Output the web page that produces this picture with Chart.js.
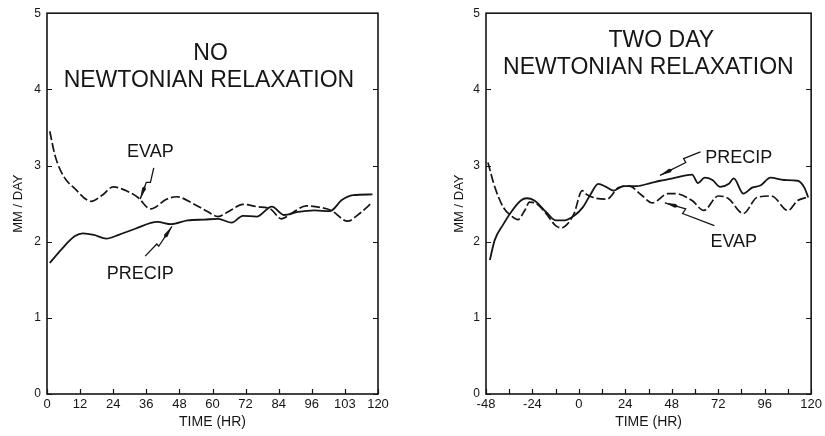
<!DOCTYPE html>
<html>
<head>
<meta charset="utf-8">
<script src="https://cdn.jsdelivr.net/npm/chart.js@4.4.0/dist/chart.umd.min.js"></script>
<style>
  body { margin: 0; background: #fff; }
  .panel { position: absolute; top: 0; }
</style>
</head>
<body>
<canvas id="noRelax" class="panel" width="410" height="436" style="left:0"></canvas>
<canvas id="twoDay" class="panel" width="410" height="436" style="left:415px"></canvas>
<script>
// Left panel: no Newtonian relaxation
const noRelaxEvapHr = [1, 3, 6, 10, 16, 20, 24, 28, 33, 37.5, 43.5, 47, 53, 58, 62, 66, 71, 76, 81, 85, 89, 94, 99, 103, 109, 113, 118];
const noRelaxEvap   = [3.45, 3.12, 2.86, 2.70, 2.53, 2.61, 2.72, 2.68, 2.58, 2.43, 2.56, 2.59, 2.50, 2.40, 2.33, 2.40, 2.49, 2.46, 2.43, 2.30, 2.38, 2.47, 2.45, 2.41, 2.27, 2.36, 2.52];
const noRelaxPrecipHr = [1, 5, 10, 13, 17, 21.5, 26, 32, 40, 45, 51, 57, 62, 67, 71, 76, 81.5, 86, 91, 97, 102.5, 107, 111, 118];
const noRelaxPrecip   = [1.72, 1.89, 2.07, 2.11, 2.09, 2.04, 2.09, 2.17, 2.26, 2.23, 2.28, 2.29, 2.30, 2.25, 2.34, 2.33, 2.46, 2.35, 2.39, 2.41, 2.40, 2.55, 2.61, 2.62];
const noRelaxTickLabels = ['0', '12', '24', '36', '48', '60', '72', '84', '96', '103', '120'];

// Right panel: two day Newtonian relaxation
const twoDayEvapHr = [-47, -43.5, -39, -35, -31.5, -28, -25.5, -22, -17, -12, -9, -6, -2.5, 1.7, 4, 9, 14.5, 20.5, 26, 32, 38, 46, 50, 58.5, 64.5, 72, 77, 85, 92, 99.5, 108, 113, 117.5];
const twoDayEvap   = [3.04, 2.72, 2.45, 2.34, 2.29, 2.41, 2.52, 2.50, 2.37, 2.21, 2.18, 2.23, 2.37, 2.67, 2.62, 2.57, 2.56, 2.71, 2.73, 2.62, 2.51, 2.63, 2.63, 2.54, 2.41, 2.60, 2.57, 2.37, 2.58, 2.60, 2.41, 2.54, 2.58];
const twoDayPrecipHr = [-46, -43.5, -39, -35, -30, -27, -23, -17, -12, -7.5, -2.5, 2, 6, 10, 14, 18, 23, 30, 37, 42, 50, 58.5, 61.5, 65, 69, 73, 77.5, 80, 85, 89.5, 94, 99, 106, 113, 116.5, 118.5];
const twoDayPrecip   = [1.76, 2.02, 2.23, 2.39, 2.54, 2.57, 2.54, 2.39, 2.28, 2.28, 2.34, 2.45, 2.62, 2.76, 2.72, 2.67, 2.73, 2.73, 2.77, 2.80, 2.84, 2.88, 2.77, 2.84, 2.81, 2.72, 2.76, 2.83, 2.63, 2.71, 2.74, 2.84, 2.81, 2.80, 2.71, 2.58];
const twoDayTickLabels = ['-48', '-24', '0', '24', '48', '72', '96', '120'];

const yTickLabels = ['0', '1', '2', '3', '4', '5'];

const ink = '#151515';
const face = "'Liberation Sans', Arial, sans-serif";

function pairs(xs, ys) {
    return xs.map((x, i) => ({ x: x, y: ys[i] }));
}

// box, inward ticks, titles, labels and squiggle arrows
function decor(notes, arrows) {
    return {
        id: 'decor',
        afterDatasetsDraw(chart) {
            const { ctx, chartArea: a, scales: { x, y } } = chart;
            ctx.save();
            ctx.strokeStyle = ink;
            ctx.lineWidth = 1.6;
            ctx.strokeRect(a.left, a.top, a.right - a.left, a.bottom - a.top);

            ctx.lineWidth = 1.2;
            ctx.beginPath();
            x.ticks.forEach(t => {
                const px = Math.round(x.getPixelForValue(t.value)) + 0.5;
                ctx.moveTo(px, a.bottom);
                ctx.lineTo(px, a.bottom - 5);
            });
            y.ticks.forEach(t => {
                const py = Math.round(y.getPixelForValue(t.value)) + 0.5;
                ctx.moveTo(a.left, py);
                ctx.lineTo(a.left + 5, py);
                ctx.moveTo(a.right, py);
                ctx.lineTo(a.right - 5, py);
            });
            ctx.stroke();

            ctx.fillStyle = ink;
            ctx.textAlign = 'center';
            ctx.textBaseline = 'middle';
            notes.forEach(n => {
                ctx.font = n.size + 'px ' + face;
                ctx.fillText(n.text, x.getPixelForValue(n.x), y.getPixelForValue(n.y));
            });

            arrows.forEach(pts => {
                const p = pts.map(q => [x.getPixelForValue(q[0]), y.getPixelForValue(q[1])]);
                ctx.lineWidth = 1.3;
                ctx.beginPath();
                ctx.moveTo(p[0][0], p[0][1]);
                p.slice(1).forEach(q => ctx.lineTo(q[0], q[1]));
                ctx.stroke();
                // arrow head: thick sliver at the tip
                const tip = p[p.length - 1], prev = p[p.length - 2];
                const dx = tip[0] - prev[0], dy = tip[1] - prev[1];
                const len = Math.hypot(dx, dy);
                const ux = dx / len, uy = dy / len, nx = -uy, ny = ux;
                const bx = tip[0] - ux * 11, by = tip[1] - uy * 11;
                ctx.beginPath();
                ctx.moveTo(tip[0], tip[1]);
                ctx.lineTo(bx + nx * 2, by + ny * 2);
                ctx.lineTo(bx - ux * 3, by - uy * 3);
                ctx.lineTo(bx - nx * 2, by - ny * 2);
                ctx.closePath();
                ctx.fill();
            });
            ctx.restore();
        }
    };
}

function makeChart(id, evap, precip, xr, xLabel, yAxisWidth, yTitlePad, padRight, padTop, notes, arrows) {
    return new Chart(document.getElementById(id), {
        type: 'line',
        data: {
            datasets: [{
                label: 'EVAP',
                data: evap,
                borderColor: ink,
                borderWidth: 1.7,
                borderDash: [9, 3],
                pointRadius: 0,
                cubicInterpolationMode: 'monotone',
            }, {
                label: 'PRECIP',
                data: precip,
                borderColor: ink,
                borderWidth: 1.8,
                pointRadius: 0,
                cubicInterpolationMode: 'monotone',
            }]
        },
        options: {
            responsive: false,
            animation: false,
            layout: { padding: { top: padTop, right: padRight, left: 0, bottom: 0 } },
            plugins: { legend: { display: false }, tooltip: { enabled: false } },
            scales: {
                x: {
                    type: 'linear',
                    min: xr.min,
                    max: xr.max,
                    grid: { display: false, drawTicks: false, tickLength: 0 },
                    border: { display: false },
                    ticks: {
                        stepSize: 12,
                        autoSkip: false,
                        maxRotation: 0,
                        padding: 3,
                        color: ink,
                        font: { family: face, size: 13 },
                        callback: xLabel,
                    },
                    title: {
                        display: true,
                        text: 'TIME (HR)',
                        color: ink,
                        font: { family: face, size: 14 },
                        padding: { top: 0, bottom: 5 },
                    },
                    afterFit: s => { s.height = 42; },
                },
                y: {
                    min: 0,
                    max: 5,
                    grid: { display: false, drawTicks: false, tickLength: 0 },
                    border: { display: false },
                    ticks: {
                        stepSize: 1,
                        padding: 6,
                        color: ink,
                        font: { family: face, size: 12 },
                        callback: v => yTickLabels[v],
                    },
                    title: {
                        display: true,
                        text: 'MM / DAY',
                        color: ink,
                        font: { family: face, size: 13 },
                        padding: { top: yTitlePad, bottom: 0 },
                    },
                    afterFit: s => { s.width = yAxisWidth; },
                }
            }
        },
        plugins: [decor(notes, arrows)]
    });
}

// Left chart
makeChart('noRelax',
    pairs(noRelaxEvapHr, noRelaxEvap),
    pairs(noRelaxPrecipHr, noRelaxPrecip),
    { min: 0, max: 120 },
    (v, i) => noRelaxTickLabels[i],
    47, 11, 32, 6,
    [
        { text: 'NO', x: 59.3, y: 4.47, size: 23 },
        { text: 'NEWTONIAN RELAXATION', x: 58.7, y: 4.11, size: 23 },
        { text: 'EVAP', x: 37.5, y: 3.18, size: 18 },
        { text: 'PRECIP', x: 33.8, y: 1.57, size: 18 },
    ],
    [
        [[38.7, 2.97], [37.5, 2.78], [36, 2.78], [33.8, 2.56]],
        [[35.6, 1.81], [39.8, 1.97], [40.5, 1.94], [45.3, 2.20]],
    ]);

// Right chart
makeChart('twoDay',
    pairs(twoDayEvapHr, twoDayEvap),
    pairs(twoDayPrecipHr, twoDayPrecip),
    { min: -48, max: 120 },
    v => (v % 24 === 0 ? twoDayTickLabels[(v + 48) / 24] : ''),
    71, 37, 10, 7,
    [
        { text: 'TWO DAY', x: 42.6, y: 4.64, size: 23 },
        { text: 'NEWTONIAN RELAXATION', x: 35.9, y: 4.28, size: 23 },
        { text: 'PRECIP', x: 82.6, y: 3.10, size: 18 },
        { text: 'EVAP', x: 80, y: 2.00, size: 18 },
    ],
    [
        [[62.8, 3.18], [54.1, 3.09], [55.2, 3.04], [41.9, 2.87]],
        [[70, 2.21], [53.6, 2.37], [55.2, 2.43], [44.4, 2.51]],
    ]);
</script>
</body>
</html>
